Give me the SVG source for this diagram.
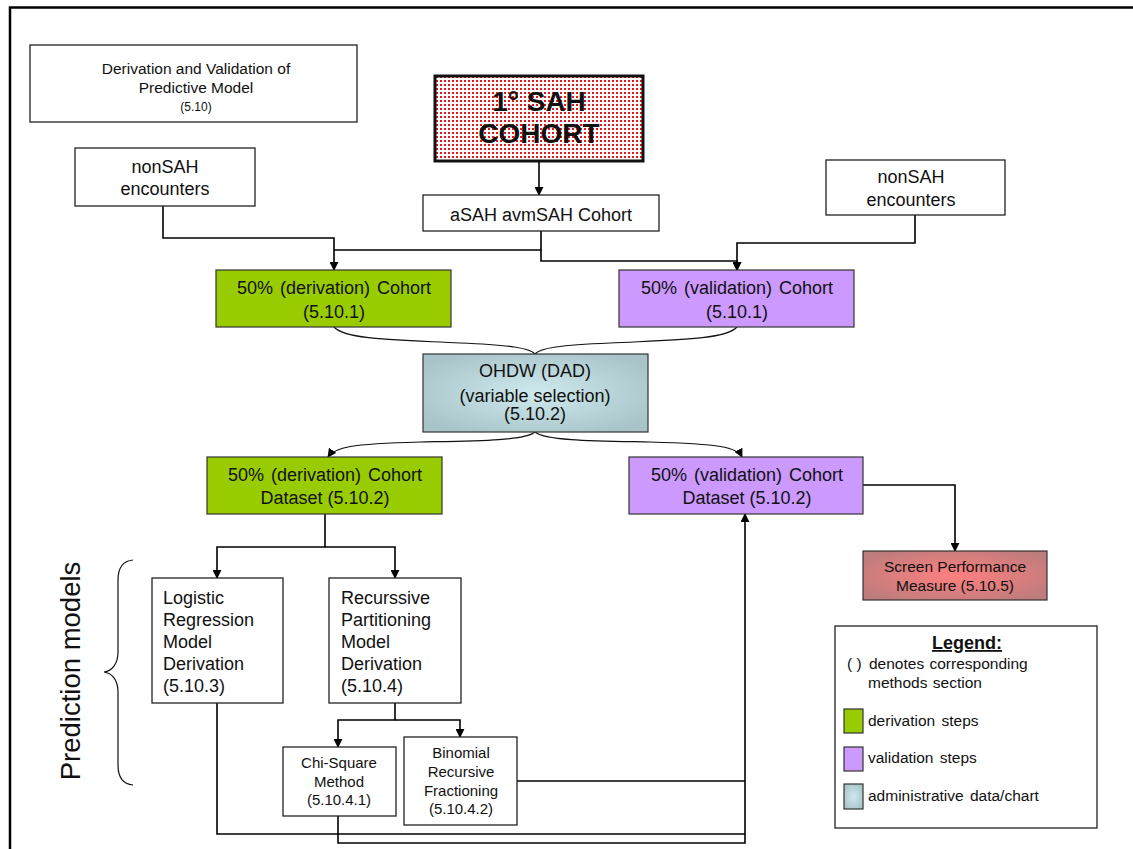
<svg xmlns="http://www.w3.org/2000/svg" width="1133" height="849" viewBox="0 0 1133 849">
  <defs>
    <style>
      text { font-family: "Liberation Sans", Arial, sans-serif; fill: #111; }
      .box { fill: #fff; stroke: #222; stroke-width: 1.3; }
      .deriv { fill: #99cc00; stroke: #333; stroke-width: 1.2; }
      .valid { fill: #cc99ff; stroke: #333; stroke-width: 1.2; }
      .admin { fill: url(#adminFill); stroke: #333; stroke-width: 1.2; }
      .conn { fill: none; stroke: #000; stroke-width: 1.6; }
      .curve { fill: none; stroke: #111; stroke-width: 1.2; }
      .t18 { font-size: 18px; }
      .t15 { font-size: 15px; }
      .mid { text-anchor: middle; }
    </style>
    <pattern id="dots" width="4" height="4" patternUnits="userSpaceOnUse">
      <rect width="4" height="4" fill="#fff"/>
      <rect width="2" height="2" fill="#e8141c"/>
    </pattern>
    <radialGradient id="adminFill" cx="50%" cy="50%" r="60%">
      <stop offset="0" stop-color="#cfeaee"/>
      <stop offset="1" stop-color="#a8c4c8"/>
    </radialGradient>
    <radialGradient id="screenFill" cx="50%" cy="50%" r="60%">
      <stop offset="0" stop-color="#ff8080"/>
      <stop offset="1" stop-color="#bf7c7c"/>
    </radialGradient>
    <marker id="arrow" viewBox="0 0 10 10" refX="9" refY="5" markerWidth="9" markerHeight="9" markerUnits="userSpaceOnUse" orient="auto">
      <path d="M0,0 L10,5 L0,10 Z" fill="#000"/>
    </marker>
  </defs>

  <rect width="1133" height="849" fill="#fff"/>
  <!-- page frame -->
  <path d="M10,849 V7.5 H1133" fill="none" stroke="#000" stroke-width="2.5"/>

  <!-- connectors -->
  <g id="connectors">
    <path class="conn" d="M539,161 V195" marker-end="url(#arrow)"/>
    <path class="conn" d="M163,206 V238 H334 V270" marker-end="url(#arrow)"/>
    <path class="conn" d="M541,231 V250 H334"/>
    <path class="conn" d="M541,250 V261 H737 V270" marker-end="url(#arrow)"/>
    <path class="conn" d="M915,215 V243 H737 V270" marker-end="url(#arrow)"/>
    <path class="curve" d="M334,327 C345,340 400,340 460,343 C510,345 530,348 535,354"/>
    <path class="curve" d="M737,327 C726,340 670,340 610,343 C560,345 540,348 535,354"/>
    <path class="curve" d="M535,432 C525,441 470,441 420,442 C350,444 335,447 328,457" marker-end="url(#arrow)"/>
    <path class="curve" d="M535,432 C545,441 600,441 650,442 C720,444 737,447 742,457" marker-end="url(#arrow)"/>
    <path class="conn" d="M325,514 V547 H217 V578" marker-end="url(#arrow)"/>
    <path class="conn" d="M325,547 H395 V578" marker-end="url(#arrow)"/>
    <path class="conn" d="M395,703 V720 H338 V747" marker-end="url(#arrow)"/>
    <path class="conn" d="M395,720 H460 V737" marker-end="url(#arrow)"/>
    <path class="conn" d="M863,485 H955 V551" marker-end="url(#arrow)"/>
    <path class="conn" d="M217,703 V834 H745"/>
    <path class="conn" d="M517,781 H745"/>
    <path class="conn" d="M338,816 V843 H745 V514" marker-end="url(#arrow)"/>
    <!-- brace grouping the prediction models -->
    <path class="curve" d="M133,560 C122,561 118,568 118,580 V652 C118,664 112,671 104,672 C112,673 118,680 118,692 V765 C118,777 122,784 133,785"/>
  </g>

  <g id="title">
    <rect class="box" x="30" y="45" width="327" height="77"/>
    <text class="mid" x="196" y="74" font-size="15.5">Derivation and Validation of</text>
    <text class="mid" x="196" y="93" font-size="15.5">Predictive Model</text>
    <text class="mid" x="196" y="111" font-size="12">(5.10)</text>
  </g>

  <g id="sah-cohort">
    <rect x="435" y="76" width="208" height="85" fill="url(#dots)" stroke="#111" stroke-width="3"/>
    <text class="mid" x="539" y="111" font-size="28" font-weight="bold">1° SAH</text>
    <text class="mid" x="539" y="143" font-size="28" font-weight="bold">COHORT</text>
  </g>

  <g id="nonsah-left">
    <rect class="box" x="75" y="148" width="180" height="58"/>
    <text class="mid t18" x="165" y="173">nonSAH</text>
    <text class="mid t18" x="165" y="195">encounters</text>
  </g>

  <g id="nonsah-right">
    <rect class="box" x="826" y="160" width="179" height="55"/>
    <text class="mid t18" x="911" y="183">nonSAH</text>
    <text class="mid t18" x="911" y="206">encounters</text>
  </g>

  <g id="asah-cohort">
    <rect class="box" x="423" y="195" width="236" height="36"/>
    <text class="mid t18" x="541" y="221">aSAH avmSAH Cohort</text>
  </g>

  <g id="derivation-cohort">
    <rect class="deriv" x="216" y="270" width="235" height="57"/>
    <text class="mid t18" x="334" y="294" word-spacing="2">50% (derivation) Cohort</text>
    <text class="mid t18" x="334" y="318">(5.10.1)</text>
  </g>

  <g id="validation-cohort">
    <rect class="valid" x="619" y="270" width="235" height="57"/>
    <text class="mid t18" x="737" y="294" word-spacing="2">50% (validation) Cohort</text>
    <text class="mid t18" x="737" y="318">(5.10.1)</text>
  </g>

  <g id="ohdw">
    <rect class="admin" x="423" y="354" width="225" height="78"/>
    <text class="mid t18" x="535" y="377">OHDW (DAD)</text>
    <text class="mid t18" x="535" y="402">(variable selection)</text>
    <text class="mid t18" x="535" y="420">(5.10.2)</text>
  </g>

  <g id="derivation-dataset">
    <rect class="deriv" x="207" y="457" width="235" height="57"/>
    <text class="mid t18" x="325" y="481" word-spacing="2">50% (derivation) Cohort</text>
    <text class="mid t18" x="325" y="504">Dataset (5.10.2)</text>
  </g>

  <g id="validation-dataset">
    <rect class="valid" x="629" y="457" width="234" height="57"/>
    <text class="mid t18" x="747" y="481" word-spacing="2">50% (validation) Cohort</text>
    <text class="mid t18" x="747" y="504">Dataset (5.10.2)</text>
  </g>

  <g id="screen-performance">
    <rect x="863" y="551" width="184" height="49" fill="url(#screenFill)" stroke="#333" stroke-width="1.2"/>
    <text class="mid" x="955" y="572" font-size="15.5">Screen Performance</text>
    <text class="mid" x="955" y="591" font-size="15.5">Measure (5.10.5)</text>
  </g>

  <g id="prediction-models-label">
    <text class="mid" transform="translate(80,671) rotate(-90)" font-size="27.5">Prediction models</text>
  </g>

  <g id="logistic">
    <rect class="box" x="152" y="578" width="131" height="125"/>
    <text class="t18" x="163" y="604">Logistic</text>
    <text class="t18" x="163" y="626">Regression</text>
    <text class="t18" x="163" y="648">Model</text>
    <text class="t18" x="163" y="670">Derivation</text>
    <text class="t18" x="163" y="692">(5.10.3)</text>
  </g>

  <g id="recursive">
    <rect class="box" x="329" y="578" width="132" height="125"/>
    <text class="t18" x="341" y="604">Recurssive</text>
    <text class="t18" x="341" y="626">Partitioning</text>
    <text class="t18" x="341" y="648">Model</text>
    <text class="t18" x="341" y="670">Derivation</text>
    <text class="t18" x="341" y="692">(5.10.4)</text>
  </g>

  <g id="chi-square">
    <rect class="box" x="283" y="747" width="113" height="69"/>
    <text class="mid t15" x="339" y="768">Chi-Square</text>
    <text class="mid t15" x="339" y="787">Method</text>
    <text class="mid t15" x="339" y="805">(5.10.4.1)</text>
  </g>

  <g id="binomial">
    <rect class="box" x="404" y="737" width="113" height="88"/>
    <text class="mid t15" x="461" y="758">Binomial</text>
    <text class="mid t15" x="461" y="777">Recursive</text>
    <text class="mid t15" x="461" y="796">Fractioning</text>
    <text class="mid t15" x="461" y="814">(5.10.4.2)</text>
  </g>

  <g id="legend">
    <rect class="box" x="835" y="626" width="262" height="202"/>
    <text class="mid" x="967" y="649" font-size="18" font-weight="bold" text-decoration="underline">Legend:</text>
    <text x="847" y="669" font-size="15.5">( )</text>
    <text x="869" y="669" font-size="15.5" word-spacing="1">denotes corresponding</text>
    <text x="868" y="688" font-size="15.5" word-spacing="1">methods section</text>
    <rect class="deriv" x="844" y="709" width="19" height="24"/>
    <text x="868" y="726" font-size="15.5" word-spacing="2">derivation steps</text>
    <rect class="valid" x="844" y="747" width="19" height="24"/>
    <text x="868" y="763" font-size="15.5" word-spacing="2">validation steps</text>
    <rect class="admin" x="844" y="784" width="19" height="25"/>
    <text x="868" y="801" font-size="15.5" word-spacing="2">administrative data/chart</text>
  </g>
</svg>
